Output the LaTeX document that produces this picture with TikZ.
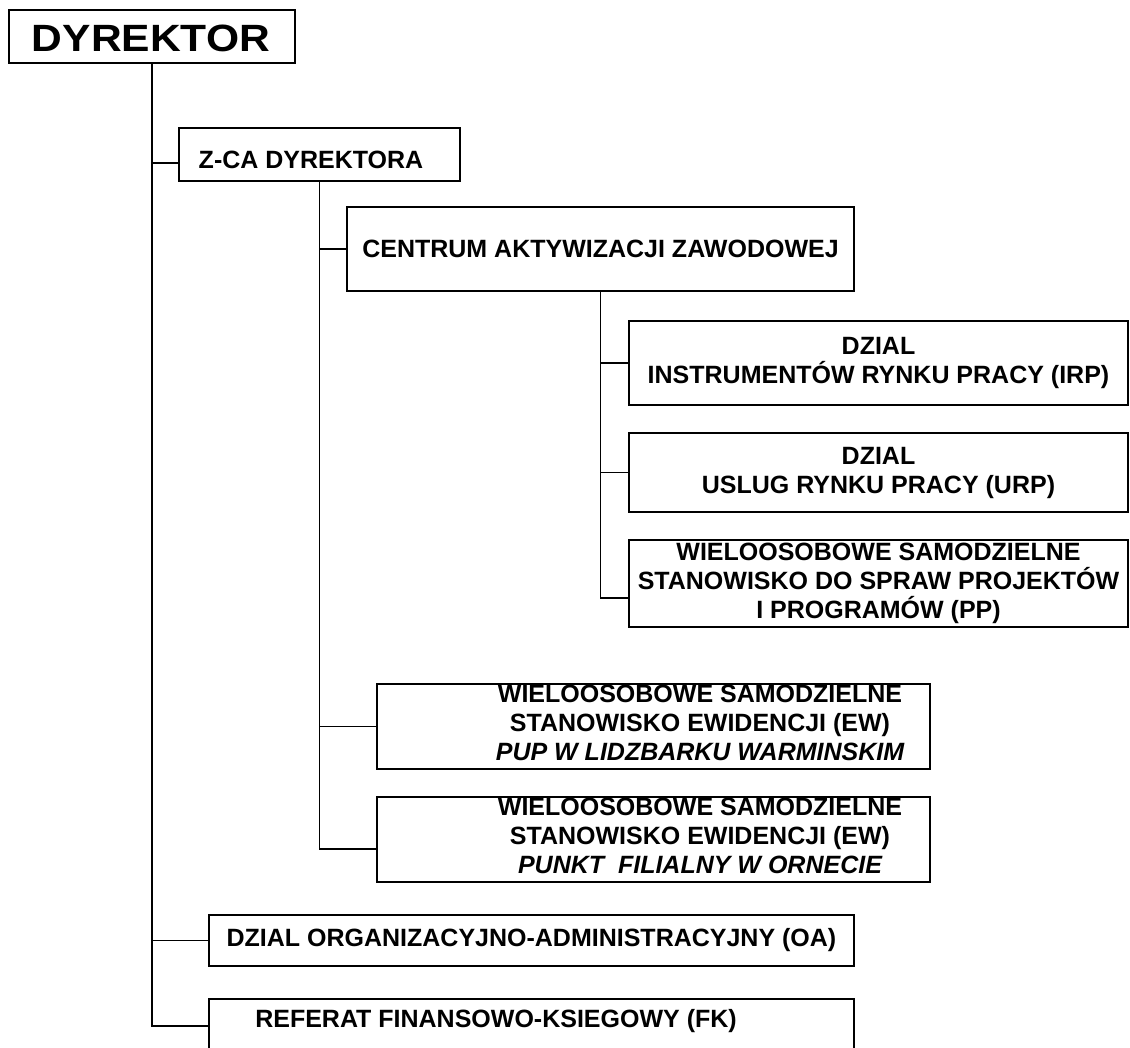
\documentclass[tikz,border=0pt]{standalone}
\usepackage{fontspec}
\setmainfont{Liberation Sans}
\usepackage{graphicx}
\begin{document}
\begin{tikzpicture}[x=1pt,y=-1pt,
  box/.style={draw=black, line width=1.8pt, inner sep=0pt, align=center,
              font=\fontsize{25}{29}\selectfont\bfseries},
  txt/.style={inner sep=0pt, align=center, font=\fontsize{25}{29}\selectfont\bfseries},
  conn/.style={draw=black, line width=1.8pt}]
\path[use as bounding box, clip] (0,0) rectangle (1130,1047);
\fill[white] (0,0) rectangle (1130,1047);

% boxes
\node[box, minimum width=286pt, minimum height=53pt] (dyr) at (152,36.5) {};
\node[inner sep=0pt, font=\fontsize{38}{40}\selectfont\bfseries] (dyrt) at (151,38.5) {\scalebox{1.12}[1]{DYREKTOR}};

\node[box, minimum width=281pt, minimum height=53pt] (zca) at (319.5,154.5) {};
\node[txt] (zcat) at (311,160) {Z-CA DYREKTORA};

\node[box, minimum width=507pt, minimum height=84pt] (caz) at (600.5,249) {CENTRUM AKTYWIZACJI ZAWODOWEJ};

\node[box, minimum width=499pt, minimum height=84pt] (irp) at (878.5,363) {DZIAL\\INSTRUMENTÓW RYNKU PRACY (IRP)};
\node[box, minimum width=499pt, minimum height=79pt] (urp) at (878.5,472.5) {DZIAL\\USLUG RYNKU PRACY (URP)};
\node[box, minimum width=499pt, minimum height=87pt] (pp) at (878.5,583.5) {WIELOOSOBOWE SAMODZIELNE\\STANOWISKO DO SPRAW PROJEKTÓW\\I PROGRAMÓW (PP)};

\node[box, minimum width=553pt, minimum height=85pt] (ew1) at (653.5,726.5) {};
\node[txt] (ew1t) at (700,723) {WIELOOSOBOWE SAMODZIELNE\\STANOWISKO EWIDENCJI (EW)\\{\itshape PUP W LIDZBARKU WARMINSKIM}};
\node[box, minimum width=553pt, minimum height=85pt] (ew2) at (653.5,839.5) {};
\node[txt] (ew2t) at (700,836) {WIELOOSOBOWE SAMODZIELNE\\STANOWISKO EWIDENCJI (EW)\\{\itshape PUNKT\ \ FILIALNY W ORNECIE}};

\node[box, minimum width=645pt, minimum height=51pt] (oa) at (531.5,940.5) {DZIAL ORGANIZACYJNO-ADMINISTRACYJNY (OA)};
\node[box, minimum width=645pt, minimum height=54pt] (fk) at (531.5,1026) {};
\node[txt] (fkt) at (496,1021) {REFERAT FINANSOWO-KSIEGOWY (FK)};

% connectors
\draw[conn] (dyr.south) |- ([yshift=-8.5pt]zca.west);
\draw[conn] (dyr.south) |- (oa.west);
\draw[conn] (dyr.south) |- (fk.west);

\draw[conn] (zca.south) |- (caz.west);
\draw[conn] (zca.south) |- (ew1.west);
\draw[conn] (zca.south) |- ([yshift=-9.5pt]ew2.west);

\draw[conn] (caz.south) |- (irp.west);
\draw[conn] (caz.south) |- (urp.west);
\draw[conn] (caz.south) |- ([yshift=-14.5pt]pp.west);
\end{tikzpicture}
\end{document}
